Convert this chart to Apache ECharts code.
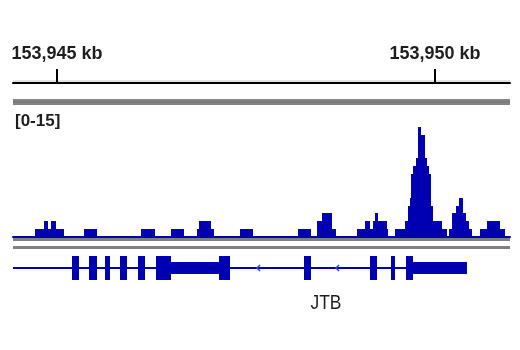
<!DOCTYPE html>
<html>
<head>
<meta charset="utf-8">
<script src="https://cdn.jsdelivr.net/npm/echarts@6/dist/echarts.min.js"></script>
<style>html,body{margin:0;padding:0;background:#fff}#c{width:520px;height:350px}</style>
</head>
<body>
<div id="c"></div>
<script>
// Genomic window (kb)
const viewStart = 153944.418;
const viewEnd = 153950.992;
const rulerTicks = [153945, 153950];
const trackRange = [0, 15];
const trackLabel = '[0-15]';

// Coverage bins: start (kb), end (kb), value
const binStart = [153944.709,153944.828,153944.881,153944.921,153944.987,153945.357,153946.111,153946.508,153946.852,153946.878,153947.037,153947.421,153948.188,153948.439,153948.505,153948.638,153948.968,153949.074,153949.140,153949.180,153949.207,153949.246,153949.365,153949.471,153949.603,153949.643,153949.670,153949.683,153949.709,153949.749,153949.775,153949.815,153949.868,153949.894,153949.921,153949.947,153949.974,153950.093,153950.185,153950.225,153950.278,153950.318,153950.371,153950.410,153950.450,153950.595,153950.688,153950.860];
const binEnd   = [153944.828,153944.881,153944.921,153944.987,153945.093,153945.529,153946.296,153946.680,153946.878,153947.037,153947.077,153947.593,153948.360,153948.505,153948.638,153948.691,153949.074,153949.140,153949.180,153949.207,153949.246,153949.365,153949.379,153949.603,153949.643,153949.670,153949.683,153949.709,153949.749,153949.775,153949.815,153949.868,153949.894,153949.921,153949.947,153949.974,153950.093,153950.159,153950.225,153950.278,153950.318,153950.371,153950.410,153950.450,153950.490,153950.688,153950.860,153950.926];
const binValue = [1,2,1,2,1,1,1,1,1,2,1,1,1,2,3,1,1,2,1,2,3,2,1,1,2,4,5,8,9,10,14,13,10,9,8,4,2,1,1,3,4,5,3,2,1,1,2,1];

// Gene JTB model
const geneName = 'JTB';
const intronStart = 153944.418;
const intronEnd = 153949.617;
const exonStart = [153945.198,153945.423,153945.635,153945.833,153946.071,153946.310,153946.508,153947.143,153948.267,153949.140,153949.418,153949.617,153949.709];
const exonEnd   = [153945.291,153945.529,153945.701,153945.926,153946.164,153946.508,153947.143,153947.288,153948.360,153949.233,153949.471,153949.709,153950.423];
const exonCoding = [1,1,1,1,1,1,0,1,1,1,1,1,0]; // 1 = coding (tall), 0 = UTR (short)
const strandArrows = [153947.659, 153948.704];

const BLUE = '#0000b2';
const chart = echarts.init(document.getElementById('c'), null, {renderer: 'canvas'});

function fmtKb(v) {
  return String(Math.round(v)).replace(/\B(?=(\d{3})+(?!\d))/g, ',') + ' kb';
}

const covData = binStart.map((s, i) => [s, binEnd[i], binValue[i]]);
const exonData = exonStart.map((s, i) => [s, exonEnd[i], exonCoding[i] ? 1 : 0.5]);

const option = {
  animation: false,
  grid: [
    {left: 13, width: 497, top: 66, height: 17},
    {left: 13, width: 497, top: 119, height: 118},
    {left: 13, width: 497, top: 256, height: 24}
  ],
  xAxis: [
    {gridIndex: 0, type: 'value', min: viewStart, max: viewEnd, position: 'bottom',
     axisLine: {show: true, lineStyle: {color: '#000', width: 2}},
     axisTick: {show: true, inside: true, length: 14, customValues: rulerTicks, lineStyle: {color: '#000', width: 2}},
     axisLabel: {show: false}, splitLine: {show: false}},
    {gridIndex: 0, type: 'value', min: viewStart, max: viewEnd, position: 'top',
     axisLine: {show: false}, axisTick: {show: false},
     axisLabel: {show: true, customValues: rulerTicks, formatter: fmtKb, margin: 3,
       fontFamily: 'Liberation Sans', fontWeight: 'bold', fontSize: 18, color: '#1e1e1e'},
     splitLine: {show: false}},
    {gridIndex: 1, type: 'value', min: viewStart, max: viewEnd,
     axisLine: {show: true, onZero: false, lineStyle: {color: BLUE, width: 2}},
     axisTick: {show: false}, axisLabel: {show: false}, splitLine: {show: false}},
    {gridIndex: 2, type: 'value', min: viewStart, max: viewEnd, show: false}
  ],
  yAxis: [
    {gridIndex: 0, type: 'value', show: false, min: 0, max: 1},
    {gridIndex: 1, type: 'value', show: false, min: trackRange[0], max: trackRange[1]},
    {gridIndex: 2, type: 'value', show: false, min: -1, max: 1}
  ],
  graphic: [
    {type: 'line', shape: {x1: 13, y1: 81, x2: 510, y2: 81}, style: {stroke: '#c8c8c8', lineWidth: 1}},
    {type: 'rect', shape: {x: 13, y: 99, width: 497, height: 6}, style: {fill: '#858585'}},
    {type: 'rect', shape: {x: 13, y: 101, width: 497, height: 2}, style: {fill: '#7a7a7a'}},
    {type: 'text', left: 15, top: 113, style: {text: trackLabel, font: 'bold 17px "Liberation Sans"', fill: '#1e1e1e'}},
    {type: 'rect', shape: {x: 13, y: 238, width: 497, height: 3}, style: {fill: '#808080'}},
    {type: 'rect', shape: {x: 13, y: 246, width: 497, height: 3}, style: {fill: '#808080'}},
    {type: 'text', x: 326, y: 303, scaleX: 0.83, style: {text: geneName, font: '21px "Liberation Sans"', fill: '#1e1e1e', align: 'center', verticalAlign: 'middle'}}
  ],
  series: [
    {
      type: 'custom', xAxisIndex: 2, yAxisIndex: 1, data: covData, clip: true,
      renderItem: function (params, api) {
        const p0 = api.coord([api.value(0), api.value(2)]);
        const p1 = api.coord([api.value(1), 0]);
        const x0 = Math.round(p0[0]), x1 = Math.round(p1[0]);
        const y0 = Math.round(p0[1]), y1 = Math.round(p1[1]);
        return {type: 'rect', shape: {x: x0, y: y0, width: x1 - x0, height: y1 - y0},
                style: {fill: BLUE}};
      }
    },
    {
      type: 'custom', xAxisIndex: 3, yAxisIndex: 2, data: [[intronStart, intronEnd]],
      renderItem: function (params, api) {
        const a = api.coord([api.value(0), 0]);
        const b = api.coord([api.value(1), 0]);
        return {type: 'line', shape: {x1: a[0], y1: a[1], x2: b[0], y2: b[1]},
                style: {stroke: BLUE, lineWidth: 2}};
      }
    },
    {
      type: 'custom', xAxisIndex: 3, yAxisIndex: 2, data: exonData,
      renderItem: function (params, api) {
        const h = api.value(2);
        const p0 = api.coord([api.value(0), h]);
        const p1 = api.coord([api.value(1), -h]);
        const x0 = Math.round(p0[0]), x1 = Math.round(p1[0]);
        const y0 = Math.round(p0[1]), y1 = Math.round(p1[1]);
        return {type: 'rect', shape: {x: x0, y: y0, width: x1 - x0, height: y1 - y0},
                style: {fill: BLUE}};
      }
    },
    {
      type: 'custom', xAxisIndex: 3, yAxisIndex: 2, data: strandArrows.map(v => [v, 0]),
      renderItem: function (params, api) {
        const p = api.coord([api.value(0), 0]);
        return {type: 'polyline', shape: {points: [[p[0] + 2, p[1] - 3], [p[0] - 1, p[1]], [p[0] + 2, p[1] + 3]]},
                style: {stroke: '#3344ee', lineWidth: 1.5, fill: null}};
      }
    }
  ]
};
chart.setOption(option);
</script>
</body>
</html>
